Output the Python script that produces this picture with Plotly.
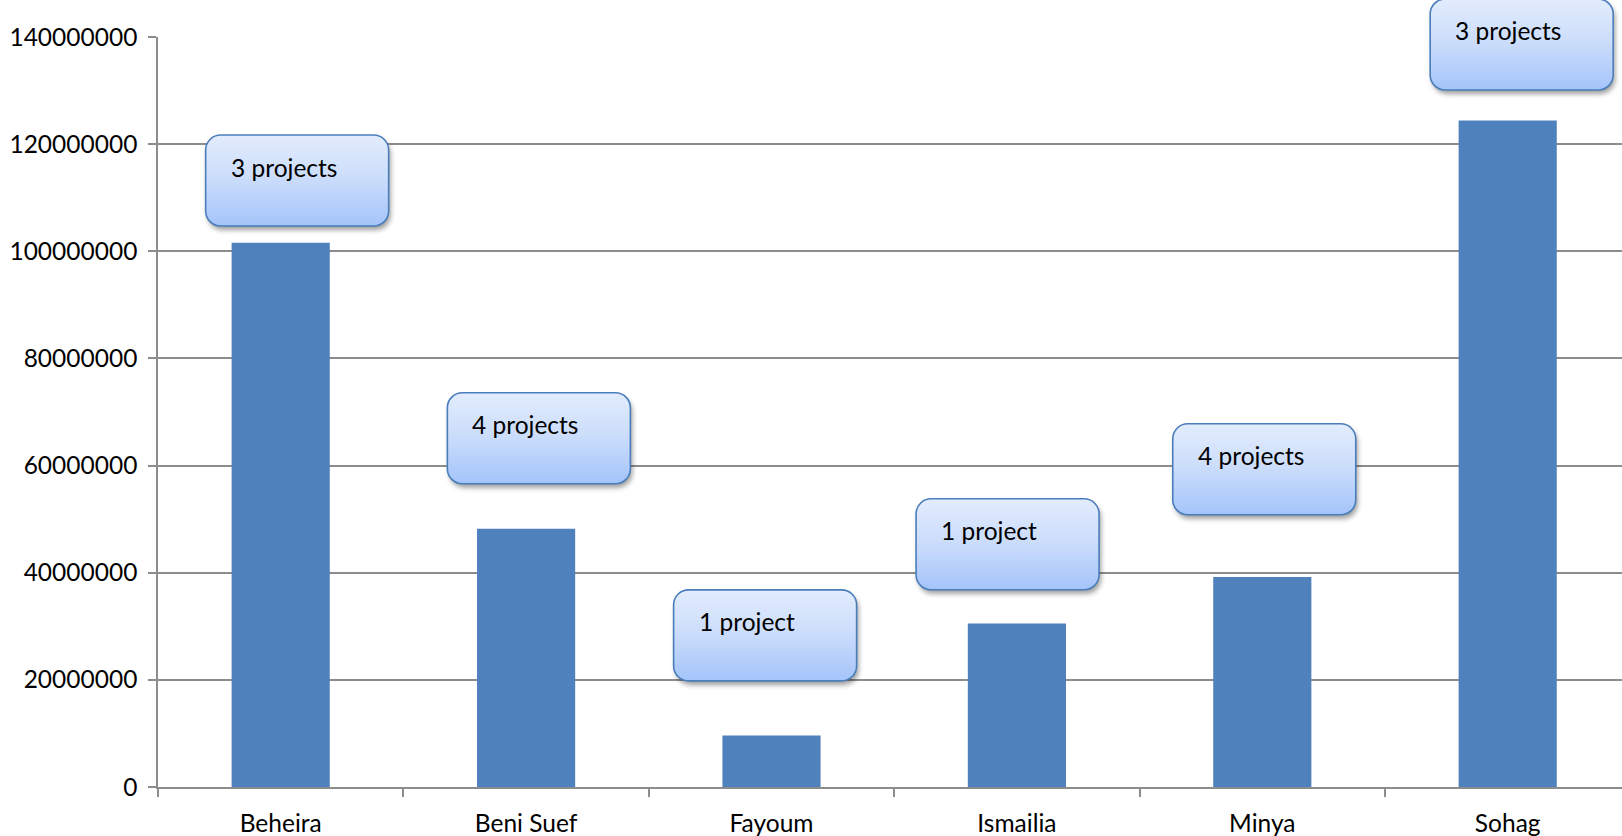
import base64
import plotly.graph_objects as go

# ---- data ----
categories = ["Beheira", "Beni Suef", "Fayoum", "Ismailia", "Minya", "Sohag"]
values = [101600000, 48200000, 9600000, 30500000, 39200000, 124400000]
project_labels = ["3 projects", "4 projects", "1 project", "1 project", "4 projects", "3 projects"]
y_tick_vals = [0, 20000000, 40000000, 60000000, 80000000, 100000000, 120000000, 140000000]
y_tick_text = ["0", "20000000", "40000000", "60000000", "80000000", "100000000", "120000000", "140000000"]

# ---- label-box placement (layout, in axis units) ----
label_dx = [0.067, 0.052, -0.026, -0.038, 0.008, 0.057]
label_cy = [113200000, 65100000, 28300000, 45300000, 59300000, 138600000]

# ---- layout geometry ----
W, H = 1622, 836
ML, MR, MT, MB = 158, 0, 37, 49
PW, PH = W - ML - MR, H - MT - MB
CAT_PX = 245.4
XMIN = -0.5
XMAX = XMIN + PW / CAT_PX
YMIN, YMAX = 0, 140000000

BAR_COLOR = "#4f81bd"
GRID = "#8c8c8c"
FONT = "Lato, Carlito, 'Open Sans', sans-serif"

BOX_W, BOX_H = 183, 91
PAD_L, PAD_T, PAD_R, PAD_B = 4, 4, 9, 11
SVG_W, SVG_H = BOX_W + PAD_L + PAD_R, BOX_H + PAD_T + PAD_B

svg = f'''<svg xmlns="http://www.w3.org/2000/svg" width="{SVG_W}" height="{SVG_H}" viewBox="0 0 {SVG_W} {SVG_H}" preserveAspectRatio="none">
<defs>
<linearGradient id="g" x1="0" y1="0" x2="0" y2="1">
<stop offset="0" stop-color="#e2ecfd"/>
<stop offset="0.45" stop-color="#cddefb"/>
<stop offset="1" stop-color="#a4c4fa"/>
</linearGradient>
<filter id="f" x="-20%" y="-20%" width="140%" height="150%">
<feGaussianBlur stdDeviation="2.6"/>
</filter>
</defs>
<rect x="{PAD_L+2}" y="{PAD_T+4}" width="{BOX_W}" height="{BOX_H}" rx="15" ry="15" fill="rgba(0,0,0,0.38)" filter="url(#f)"/>
<rect x="{PAD_L}" y="{PAD_T}" width="{BOX_W}" height="{BOX_H}" rx="15" ry="15" fill="url(#g)" stroke="#4a7ebb" stroke-width="1.6"/>
</svg>'''
svg_src = "data:image/svg+xml;base64," + base64.b64encode(svg.encode()).decode()


def to_px(xd, yd):
    X = ML + (xd - XMIN) / (XMAX - XMIN) * PW
    Y = MT + (YMAX - yd) / (YMAX - YMIN) * PH
    return X, Y


fig = go.Figure()
fig.add_trace(go.Bar(
    x=categories, y=values,
    marker=dict(color=BAR_COLOR, line=dict(width=0)),
    hoverinfo="x+y",
))

images = []
annotations = []
for i, (lab, dx, cy) in enumerate(zip(project_labels, label_dx, label_cy)):
    cxp, cyp = to_px(i + dx, cy)
    left = cxp - BOX_W / 2
    top = cyp - BOX_H / 2
    images.append(dict(
        source=svg_src, xref="paper", yref="paper",
        x=(left - PAD_L - ML) / PW, y=1 - (top - PAD_T - MT) / PH,
        sizex=SVG_W / PW, sizey=SVG_H / PH,
        xanchor="left", yanchor="top", sizing="stretch", layer="above",
    ))
    annotations.append(dict(
        text=lab, xref="paper", yref="paper",
        x=(left + 23 - ML) / PW, y=1 - (top + 32 - MT) / PH,
        xanchor="left", yanchor="middle", showarrow=False,
        font=dict(family=FONT, size=24.5, color="#000000"),
    ))

fig.update_layout(
    width=W, height=H, autosize=False,
    margin=dict(l=ML, r=MR, t=MT, b=MB, pad=0),
    paper_bgcolor="white", plot_bgcolor="white",
    bargap=0.6, showlegend=False,
    images=images, annotations=annotations,
    font=dict(family=FONT, size=24.5, color="#000000"),
)
fig.update_xaxes(
    type="category", range=[XMIN, XMAX],
    showline=True, linecolor=GRID, linewidth=1.5,
    ticks="outside", ticklen=8, tickwidth=1.5, tickcolor=GRID,
    tickson="boundaries", showgrid=False,
    ticklabelstandoff=14,
    tickfont=dict(family=FONT, size=24.5, color="#000000"),
)
fig.update_yaxes(
    range=[YMIN, YMAX], tickmode="array",
    tickvals=y_tick_vals, ticktext=y_tick_text,
    showline=True, linecolor=GRID, linewidth=1.5,
    ticks="outside", ticklen=8, tickwidth=1.5, tickcolor=GRID,
    showgrid=True, gridcolor=GRID, gridwidth=1.5,
    zeroline=False,
    ticklabelstandoff=6,
    tickfont=dict(family=FONT, size=24.5, color="#000000"),
)

fig.write_html("out.html")
